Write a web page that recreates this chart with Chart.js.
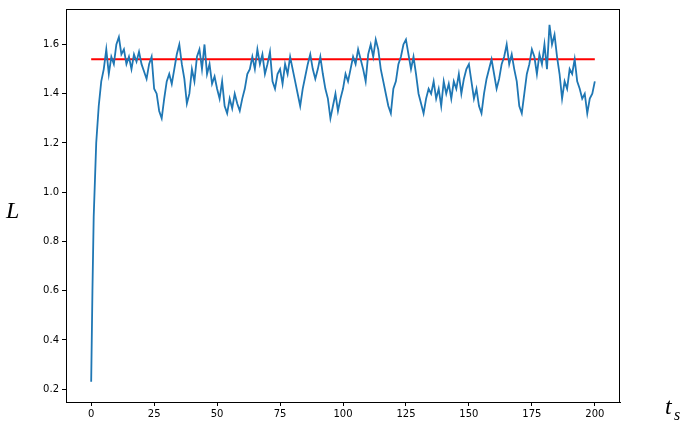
<!DOCTYPE html>
<html><head><meta charset="utf-8">
<script src="https://cdn.jsdelivr.net/npm/chart.js@4/dist/chart.umd.min.js"></script>
<style>html,body{margin:0;padding:0;background:#fff}#w{width:685px;height:422px;position:relative}</style>
</head><body><div id="w"><canvas id="c"></canvas></div>
<script>
const xs = [0,0.5,1,1.5,2,3,4,5,6,7,8,9,10,11,12,13,14,15,16,17,18,19,20,21,22,23,24,25,26,27,28,29,30,31,32,33,34,35,36,37,38,39,40,41,42,43,44,45,46,47,48,49,50,51,52,53,54,55,56,57,58,59,60,61,62,63,64,65,66,67,68,69,70,71,72,73,74,75,76,77,78,79,80,81,82,83,84,85,86,87,88,89,90,91,92,93,94,95,96,97,98,99,100,101,102,103,104,105,106,107,108,109,110,111,112,113,114,115,116,117,118,119,120,121,122,123,124,125,126,127,128,129,130,131,132,133,134,135,136,137,138,139,140,141,142,143,144,145,146,147,148,149,150,151,152,153,154,155,156,157,158,159,160,161,162,163,164,165,166,167,168,169,170,171,172,173,174,175,176,177,178,179,180,181,182,183,184,185,186,187,188,189,190,191,192,193,194,195,196,197,198,199,200];
const ys = [0.23,0.6,0.9,1.05,1.2,1.35,1.45,1.5,1.58,1.48,1.55,1.52,1.6,1.63,1.56,1.58,1.52,1.55,1.5,1.56,1.53,1.57,1.52,1.49,1.46,1.52,1.55,1.42,1.4,1.33,1.3,1.38,1.45,1.48,1.44,1.5,1.56,1.6,1.52,1.46,1.36,1.4,1.5,1.45,1.55,1.58,1.5,1.6,1.48,1.52,1.44,1.47,1.42,1.38,1.45,1.35,1.32,1.38,1.34,1.4,1.36,1.33,1.38,1.42,1.48,1.5,1.55,1.5,1.58,1.52,1.56,1.48,1.52,1.57,1.45,1.42,1.48,1.5,1.44,1.52,1.48,1.55,1.5,1.45,1.4,1.35,1.42,1.47,1.52,1.56,1.5,1.46,1.5,1.55,1.48,1.42,1.38,1.3,1.35,1.4,1.33,1.38,1.42,1.48,1.45,1.5,1.55,1.52,1.58,1.54,1.5,1.45,1.56,1.6,1.55,1.62,1.58,1.5,1.45,1.4,1.35,1.32,1.42,1.45,1.52,1.55,1.6,1.62,1.56,1.5,1.55,1.48,1.4,1.36,1.32,1.38,1.42,1.4,1.45,1.38,1.42,1.35,1.45,1.4,1.44,1.38,1.45,1.42,1.48,1.4,1.46,1.5,1.52,1.45,1.38,1.42,1.35,1.32,1.4,1.46,1.5,1.54,1.48,1.42,1.46,1.52,1.55,1.6,1.52,1.56,1.5,1.45,1.35,1.32,1.4,1.48,1.52,1.58,1.55,1.48,1.56,1.52,1.6,1.5,1.68,1.6,1.64,1.55,1.48,1.38,1.45,1.42,1.5,1.48,1.54,1.45,1.42,1.38,1.4,1.32,1.38,1.4,1.45];
const refX = [0,200];
const refY = [1.54,1.54];
const xTicks = [0,25,50,75,100,125,150,175,200];
const yTicks = [0.2,0.4,0.6,0.8,1.0,1.2,1.4,1.6];

const labels = {id:'lbl',afterDraw(ch){const c=ch.ctx;c.save();c.fillStyle='#000';
c.font='italic 24px "Liberation Serif"';c.textAlign='left';c.textBaseline='middle';c.fillText('L',6,212);
c.fillText('t',665,408);c.font='italic 16px "Liberation Serif"';c.fillText('s',674,416);c.restore();}};

new Chart(document.getElementById('c'),{type:'line',
data:{datasets:[
{data:xs.map((x,i)=>({x,y:ys[i]})),borderColor:'#1f77b4',borderWidth:1.8,pointRadius:0,tension:0},
{data:refX.map((x,i)=>({x,y:refY[i]})),borderColor:'#ff0000',borderWidth:1.8,pointRadius:0}
]},
options:{animation:false,responsive:true,maintainAspectRatio:false,
layout:{padding:{top:-6,right:65,left:0,bottom:0}},
plugins:{legend:{display:false},tooltip:{enabled:false}},
scales:{
x:{type:'linear',min:-10,max:210,grid:{display:true,drawOnChartArea:false,drawTicks:true,tickLength:4,color:'#000'},border:{color:'#000'},
 afterBuildTicks:s=>{s.ticks=xTicks.map(v=>({value:v}));},
 afterFit:s=>{s.height=20;},
 ticks:{color:'#000',font:{family:'DejaVu Sans',size:10},padding:2,maxRotation:0}},
y:{type:'linear',min:0.148,max:1.744,grid:{display:true,drawOnChartArea:false,drawTicks:true,tickLength:4,color:'#000'},border:{color:'#000'},
 afterBuildTicks:s=>{s.ticks=yTicks.map(v=>({value:v}));},
 afterFit:s=>{s.width=66;},
 ticks:{color:'#000',font:{family:'DejaVu Sans',size:10},padding:3,callback:v=>v.toFixed(1)}}
}},plugins:[labels,{id:'box',afterDraw(ch){const a=ch.chartArea,c=ch.ctx;c.save();c.strokeStyle='#000';c.lineWidth=1;c.strokeRect(a.left+0.5,a.top+0.5,a.right-a.left-1,a.bottom-a.top);c.restore();}}]});
</script></body></html>
